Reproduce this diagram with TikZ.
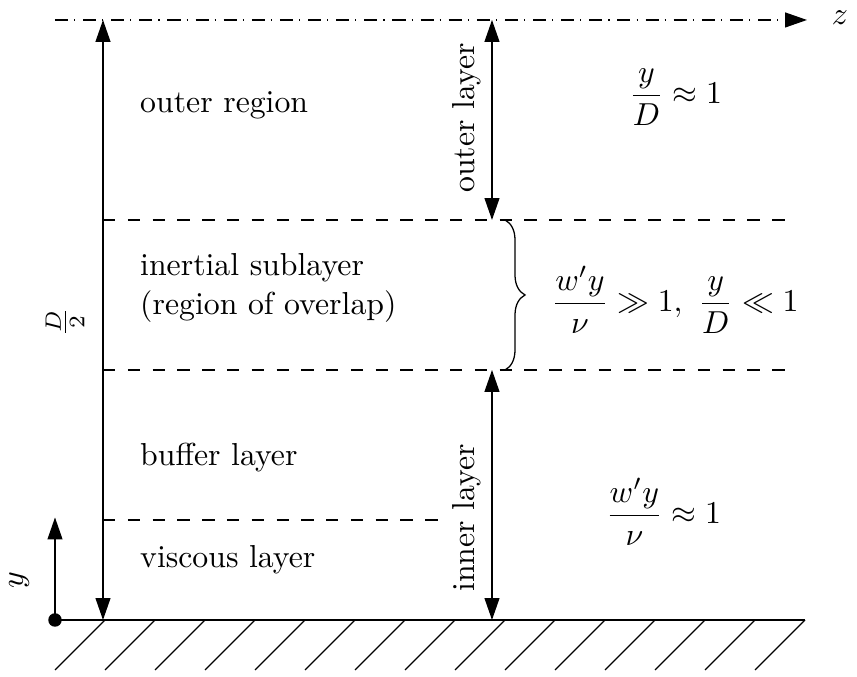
\documentclass[tikz,border=0pt]{standalone}
\usepackage{amsmath,amssymb}
\usetikzlibrary{arrows.meta, decorations.pathreplacing}

\begin{document}
\begin{tikzpicture}[
    x=0.553cm, y=0.553cm,
    tipa/.style={-{Triangle[length=6.9pt,width=4.7pt]}},
    dim/.style={{Triangle[length=6.9pt,width=4.7pt]}-{Triangle[length=6.9pt,width=4.7pt]}},
    axisline/.style={dash pattern=on 4.1pt off 1.9pt on 0.35pt off 2.5pt},
    sep/.style={dash pattern=on 3.9pt off 3.9pt},
    region/.style={anchor=west, align=left},
    layerlbl/.style={rotate=90}
]
\useasboundingbox (-1.1,-1.14) rectangle (16.04,12.4);

% wall with hatching
\node[circle, fill, inner sep=1.5pt] (orig) at (0,0) {};
\coordinate (wallend) at (15,0);
\draw (orig.center) -- (wallend);
\foreach \i in {1,...,15}
    \draw (\i,0) -- ++(-1,-1);

% y axis
\coordinate (ytip) at (0,2.05);
\draw[tipa] (orig.center) -- (ytip);
\node[rotate=90] (ylab) at (-0.72,0.8) {$y$};

% centreline
\coordinate (cl0) at (0,12);
\coordinate (cl1) at (15.04,12);
\draw[axisline, tipa] (cl0) -- (cl1);
\node[inner sep=1pt] (zlab) at (15.7,12.05) {$z$};

% half height
\coordinate (hbot) at (0.96,0);
\coordinate (htop) at (0.96,12);
\draw[dim] (hbot) -- (htop);
\node[rotate=90] (hlab) at (0.2,5.96) {$\frac{D}{2}$};

% layer boundaries
\coordinate (b8l) at (0.96,8);
\coordinate (b8r) at (14.76,8);
\coordinate (b5l) at (0.96,5);
\coordinate (b5r) at (14.76,5);
\coordinate (b2l) at (0.96,2);
\coordinate (b2r) at (7.8,2);
\draw[sep] (b8l) -- (b8r);
\draw[sep] (b5l) -- (b5r);
\draw[sep] (b2l) -- (b2r);

% outer and inner layers
\coordinate (ol0) at (8.74,8);
\coordinate (ol1) at (8.74,12);
\coordinate (il0) at (8.74,0);
\coordinate (il1) at (8.74,5);
\draw[dim] (ol0) -- (ol1);
\draw[dim] (il0) -- (il1);
\node[layerlbl] (outlab) at (8.24,10.04) {outer layer};
\node[layerlbl] (inlab) at (8.24,2.04) {inner layer};

% overlap brace
\coordinate (br0) at (9,8);
\coordinate (br1) at (9,5);
\draw[decorate, decoration={brace, amplitude=6.3pt}] (br0) -- (br1);

% region names
\node[region] (outreg) at (1.48,10.3) {outer region};
\node[region] (inert) at (1.48,6.64) {inertial sublayer\\(region of overlap)};
\node[region] (buffer) at (1.48,3.24) {buffer layer};
\node[region] (visc) at (1.48,1.2) {viscous layer};

% scalings
\node (scout) at (12.41,10.46) {$\dfrac{y}{D}\approx 1$};
\node (scmid) at (12.4,6.4) {$\dfrac{w'y}{\nu}\gg 1,\ \dfrac{y}{D}\ll 1$};
\node (scin) at (12.17,2.16) {$\dfrac{w'y}{\nu}\approx 1$};
\end{tikzpicture}
\end{document}
